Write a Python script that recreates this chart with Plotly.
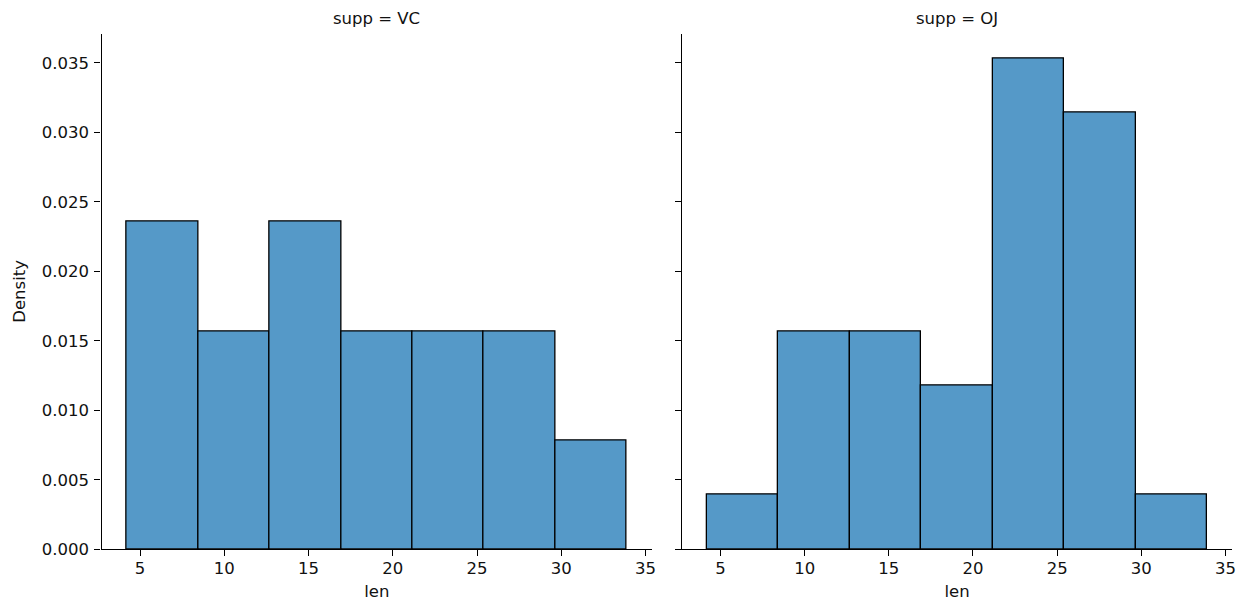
import plotly.graph_objects as go

# Histogram of tooth length by supplement type (density, shared bins)
bin_edges = [4.2, 8.443, 12.686, 16.929, 21.171, 25.414, 29.657, 33.9]
panels = ["VC", "OJ"]
density_vc = [0.02357, 0.01571, 0.02357, 0.01571, 0.01571, 0.01571, 0.00786]
density_oj = [0.00393, 0.01571, 0.01571, 0.01178, 0.03535, 0.03143, 0.00393]
x_ticks = [5, 10, 15, 20, 25, 30, 35]
y_ticks = [0.0, 0.005, 0.010, 0.015, 0.020, 0.025, 0.030, 0.035]

centers = [(a + b) / 2 for a, b in zip(bin_edges[:-1], bin_edges[1:])]
widths = [b - a for a, b in zip(bin_edges[:-1], bin_edges[1:])]

W, H = 1244, 606
FONT = "DejaVu Sans"
FS = 16.5
BAR = "rgb(85,153,200)"

fig = go.Figure()
for i, (name, vals) in enumerate(zip(panels, [density_vc, density_oj])):
    sfx = "" if i == 0 else "2"
    fig.add_trace(go.Bar(
        x=centers, y=vals, width=widths,
        marker=dict(color=BAR, line=dict(color="black", width=1.3)),
        xaxis="x" + sfx, yaxis="y" + sfx, showlegend=False, name=name,
    ))

x_dom = [[101.5 / W, 652 / W], [682 / W, 1232 / W]]
y_dom = [1 - 549.3 / H, 1 - 33.5 / H]
x_range = [2.715, 35.385]
y_range = [0, 0.03712]

axis_common = dict(
    showgrid=False, zeroline=False, showline=True, linecolor="black", linewidth=1.3,
    ticks="outside", ticklen=6, tickwidth=1.3, tickcolor="black", automargin=False,
    tickfont=dict(family=FONT, size=FS, color="#111"),
)

layout = dict(
    width=W, height=H, margin=dict(l=0, r=0, t=0, b=0),
    plot_bgcolor="white", paper_bgcolor="white",
    font=dict(family=FONT, size=FS, color="#111"),
    bargap=0,
)
for i in range(2):
    sfx = "" if i == 0 else "2"
    layout["xaxis" + sfx] = dict(
        axis_common, domain=x_dom[i], range=x_range, tickvals=x_ticks,
        anchor="y" + sfx, ticklabelstandoff=-2,
        title=dict(text="len", font=dict(family=FONT, size=FS, color="#111"), standoff=8),
    )
    ydict = dict(
        axis_common, domain=y_dom, range=y_range, tickvals=y_ticks,
        tickformat=".3f", anchor="x" + sfx, ticklabelstandoff=2,
    )
    if i == 0:
        ydict["title"] = dict(text="Density", font=dict(family=FONT, size=FS, color="#111"), standoff=12)
    else:
        ydict["showticklabels"] = False
        ydict["matches"] = "y"
    layout["yaxis" + sfx] = ydict

fig.update_layout(**layout)

for i, name in enumerate(panels):
    fig.add_annotation(
        text=f"supp = {name}", xref="paper", yref="paper",
        x=(x_dom[i][0] + x_dom[i][1]) / 2, y=1 - 18 / H,
        showarrow=False, xanchor="center", yanchor="middle",
        font=dict(family=FONT, size=FS, color="#111"),
    )

fig.write_html("out.html")
